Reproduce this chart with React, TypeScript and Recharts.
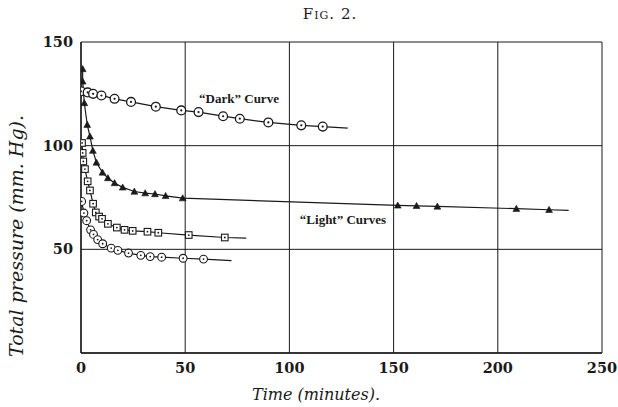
import React from 'react';
import { LineChart, Line, XAxis, YAxis, CartesianGrid } from 'recharts';

// "Dark" curve (circles)
const darkTimes = [0, 3.2, 5.8, 9.8, 16.1, 24, 35.9, 48.1, 56.4, 68.2, 76.2, 89.9, 105.7, 116];
const darkValues = [126.2, 125.7, 125, 124.2, 122.6, 121.1, 118.8, 117, 116.2, 114.2, 113, 111.2, 109.8, 109.2];
const darkEnd = { t: 128, p: 108.5 };

// "Light" curve A (triangles)
const triTimes = [0.8, 0.8, 1.6, 3, 4.3, 5.7, 7.4, 10.3, 12.9, 16.1, 20, 25.6, 30.8, 35.5, 40.6, 48.8, 152, 161, 171, 208.9, 224.6];
const triValues = [137, 131, 120.6, 110.1, 104.5, 97.6, 91.9, 87.1, 84.4, 82, 79.9, 77.9, 77.1, 76.7, 75.8, 74.7, 71.2, 71, 70.7, 69.6, 69.1];
const triEnd = { t: 234, p: 68.8 };

// "Light" curve B (squares)
const sqTimes = [0.5, 0.8, 1.1, 1.9, 3.2, 4.3, 5.8, 7.1, 8.7, 10.1, 12.9, 17.2, 20.9, 24.8, 31.9, 37.1, 51.7, 69];
const sqValues = [101.3, 96.5, 92.4, 88.7, 82.8, 78.4, 72, 67.8, 65.8, 64.7, 62.3, 60.5, 59.4, 58.9, 58.5, 58, 56.9, 55.7];
const sqEnd = { t: 79.3, p: 55.4 };

// "Light" curve C (circles)
const circTimes = [0.3, 1.4, 2.7, 4.6, 6, 8, 10.4, 14.5, 17.7, 22.8, 28.7, 33.2, 38.7, 49, 58.8];
const circValues = [73.1, 67.5, 63.8, 59.4, 57.2, 54.7, 52.7, 50.6, 49.5, 48.2, 47.1, 46.5, 46.2, 45.7, 45.3];
const circEnd = { t: 72.2, p: 44.6 };

const xTicks = [0, 50, 100, 150, 200, 250];
const yTicks = [50, 100, 150];

const build = (ts: number[], vs: number[], end: { t: number; p: number }) => [
  ...ts.map((t, i) => ({ t, p: vs[i], mark: true })),
  { t: end.t, p: end.p, mark: false },
];

const darkData = build(darkTimes, darkValues, darkEnd);
const triData = build(triTimes, triValues, triEnd);
const sqData = build(sqTimes, sqValues, sqEnd);
const circData = build(circTimes, circValues, circEnd);

const INK = '#1a1a1a';

const CircleDot = (props: any) => {
  const { cx, cy, payload, index } = props;
  if (!payload || !payload.mark || cx == null || cy == null) return <g key={index} />;
  return (
    <g key={index}>
      <circle cx={cx} cy={cy} r={4.4} fill="#fff" stroke={INK} strokeWidth={1.3} />
      <circle cx={cx} cy={cy} r={1.1} fill={INK} />
    </g>
  );
};

const SmallCircleDot = (props: any) => {
  const { cx, cy, payload, index } = props;
  if (!payload || !payload.mark || cx == null || cy == null) return <g key={index} />;
  return (
    <g key={index}>
      <circle cx={cx} cy={cy} r={3.9} fill="#fff" stroke={INK} strokeWidth={1.1} />
      <circle cx={cx} cy={cy} r={0.9} fill={INK} />
    </g>
  );
};

const SquareDot = (props: any) => {
  const { cx, cy, payload, index } = props;
  if (!payload || !payload.mark || cx == null || cy == null) return <g key={index} />;
  return (
    <g key={index}>
      <rect x={cx - 3.3} y={cy - 3.3} width={6.6} height={6.6} fill="#fff" stroke={INK} strokeWidth={1.1} />
      <circle cx={cx} cy={cy} r={0.9} fill={INK} />
    </g>
  );
};

const TriDot = (props: any) => {
  const { cx, cy, payload, index } = props;
  if (!payload || !payload.mark || cx == null || cy == null) return <g key={index} />;
  const s = 3.4;
  return (
    <path
      key={index}
      d={`M${cx},${cy - s} L${cx + s},${cy + s * 0.8} L${cx - s},${cy + s * 0.8} Z`}
      fill={INK}
      stroke={INK}
      strokeWidth={0.6}
    />
  );
};

const tickStyle = { fontFamily: 'DejaVu Serif', fontWeight: 700, fontSize: 14.5, fill: INK };

export default function App() {
  return (
    <div style={{ position: 'absolute', left: 0, top: 0, width: 618, height: 407, background: '#fff' }}>
      <LineChart
        width={618}
        height={407}
        margin={{ top: 42, right: 16, bottom: 24, left: 21 }}
      >
        <CartesianGrid stroke={INK} strokeWidth={1} />
        <XAxis
          dataKey="t"
          type="number"
          domain={[0, 250]}
          ticks={xTicks}
          allowDataOverflow
          height={30}
          tickLine={false}
          tickSize={0}
          tickMargin={10}
          axisLine={{ stroke: INK, strokeWidth: 1.4 }}
          tick={tickStyle}
        />
        <YAxis
          dataKey="p"
          type="number"
          domain={[0, 150]}
          ticks={yTicks}
          allowDataOverflow
          width={60}
          tickLine={false}
          tickSize={0}
          tickMargin={8}
          axisLine={{ stroke: INK, strokeWidth: 1.4 }}
          tick={tickStyle}
        />
        <Line data={darkData} dataKey="p" stroke={INK} strokeWidth={1.3} dot={<CircleDot />} isAnimationActive={false} activeDot={false} />
        <Line data={triData} dataKey="p" stroke={INK} strokeWidth={1.2} dot={<TriDot />} isAnimationActive={false} activeDot={false} />
        <Line data={sqData} dataKey="p" stroke={INK} strokeWidth={1.2} dot={<SquareDot />} isAnimationActive={false} activeDot={false} />
        <Line data={circData} dataKey="p" stroke={INK} strokeWidth={1.2} dot={<SmallCircleDot />} isAnimationActive={false} activeDot={false} />
      </LineChart>

      <div style={{ position: 'absolute', left: 330, top: 14, transform: 'translate(-50%,-50%)', fontFamily: 'DejaVu Serif', fontSize: 15, fontVariant: 'small-caps', letterSpacing: 1, color: INK, whiteSpace: 'nowrap' }}>
        Fig. 2.
      </div>
      <div style={{ position: 'absolute', left: 239, top: 99, transform: 'translate(-50%,-50%)', fontFamily: 'Liberation Serif', fontWeight: 700, fontSize: 13, color: INK, whiteSpace: 'nowrap' }}>
        “Dark” Curve
      </div>
      <div style={{ position: 'absolute', left: 343, top: 220, transform: 'translate(-50%,-50%)', fontFamily: 'Liberation Serif', fontWeight: 700, fontSize: 13, color: INK, whiteSpace: 'nowrap' }}>
        “Light” Curves
      </div>
      <div style={{ position: 'absolute', left: 316, top: 394, transform: 'translate(-50%,-50%)', fontFamily: 'DejaVu Serif', fontStyle: 'italic', fontSize: 16, color: INK, whiteSpace: 'nowrap' }}>
        Time (minutes).
      </div>
      <div style={{ position: 'absolute', left: 16, top: 236, transform: 'translate(-50%,-50%) rotate(-90deg)', fontFamily: 'DejaVu Serif', fontStyle: 'italic', fontSize: 19, color: INK, whiteSpace: 'nowrap' }}>
        Total pressure (mm. Hg).
      </div>
    </div>
  );
}
